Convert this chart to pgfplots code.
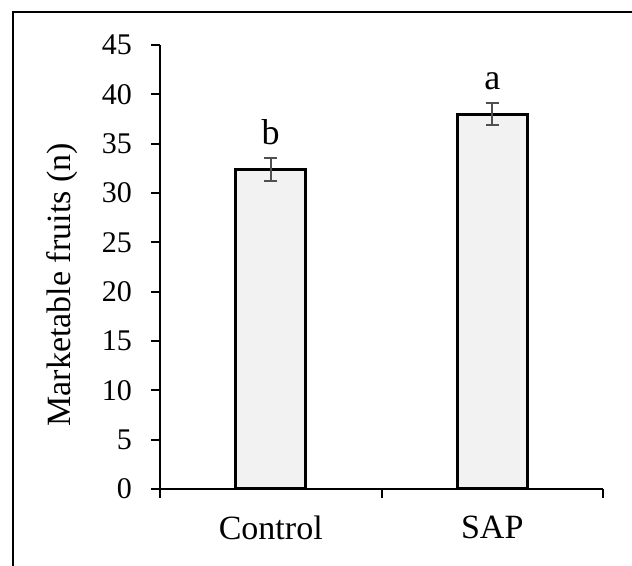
\documentclass[border=0pt]{standalone}
\usepackage{fontspec}
\setmainfont{Liberation Serif}
\usepackage{pgfplots}
\pgfplotsset{compat=1.18}
\definecolor{barfill}{HTML}{F2F2F2}
\definecolor{errgray}{HTML}{505050}
\begin{document}
\begin{tikzpicture}
\useasboundingbox (0,0) rectangle (316pt,283pt);
\draw[line width=1pt] (6.5pt,-5pt) -- (6.5pt,277pt) -- (330pt,277pt);
\begin{axis}[
  at={(80pt,38.5pt)}, anchor=south west,
  scale only axis, width=221.5pt, height=222pt,
  xmin=-0.5, xmax=1.5, ymin=0, ymax=45,
  axis lines*=left,
  axis line style={line width=1pt},
  tick style={line width=1pt, black},
  tick align=outside,
  major tick length=4.5pt,
  ytick={0,5,...,45},
  xtick={-0.5,0.5,1.5}, xticklabels={},
  extra x ticks={0,1}, extra x tick labels={Control,SAP},
  extra x tick style={major tick length=0pt, tick label style={yshift=-10pt}},
  /pgf/number format/assume math mode=true,
  tick label style={font=\fontsize{15}{18}\selectfont},
  yticklabel style={xshift=-6pt},
  xticklabel style={font=\fontsize{17}{20}\selectfont},
  ylabel={Marketable fruits (n)},
  ylabel style={font=\fontsize{17}{20}\selectfont, at={(axis description cs:-0.22,0.46)}, anchor=center},
  clip=false,
]
\addplot[ybar, bar width=35pt, fill=barfill, draw=black, line width=1.5pt,
  error bars/.cd, y dir=both, y explicit,
  error bar style={line width=1.1pt, color=errgray},
  error mark options={rotate=90, mark size=3.25pt, line width=1.1pt, color=errgray}]
  coordinates {(0,32.4) +- (0,1.15) (1,38.0) +- (0,1.1)};
\node[anchor=base, font=\fontsize{18}{20}\selectfont] at (axis cs:0,34.9) {b};
\node[anchor=base, font=\fontsize{18}{20}\selectfont] at (axis cs:1,40.5) {a};
\end{axis}
\end{tikzpicture}
\end{document}
